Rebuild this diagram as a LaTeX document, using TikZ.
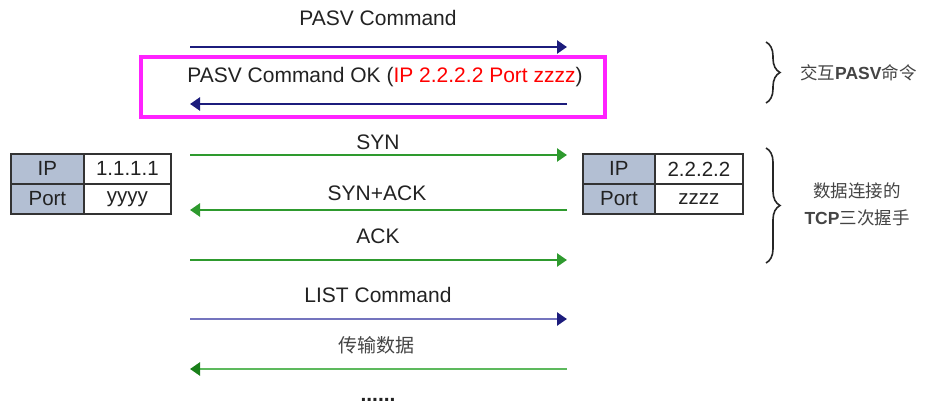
\documentclass[tikz,border=0pt]{standalone}
\usepackage{fontspec}
\setmainfont{Liberation Sans}
\newfontfamily\cjk{Noto Sans CJK SC}
\usetikzlibrary{arrows.meta,decorations.pathreplacing}
\definecolor{navy}{HTML}{1C1C7C}
\definecolor{lav}{HTML}{7474BE}
\definecolor{grn}{HTML}{2E9A2E}
\definecolor{lgrn}{HTML}{5DB95D}
\definecolor{dgrn}{HTML}{1A801A}
\definecolor{keyfill}{HTML}{B3BFD3}
\definecolor{tblline}{HTML}{333333}
\definecolor{txt}{HTML}{222222}
\definecolor{cjktxt}{HTML}{444444}
\definecolor{hlpink}{HTML}{FF22FF}
\tikzset{
  msg/.style={line width=2.6pt, -{Triangle[length=10pt,width=13pt]}},
  lbl/.style={text=txt, font=\fontsize{21}{24}\selectfont, inner sep=0pt},
  cell/.style={draw=tblline, line width=1.8pt, minimum height=30pt, inner sep=0pt,
    anchor=north west, text=txt, font=\fontsize{20.5}{22}\selectfont},
  keycell/.style={cell, fill=keyfill},
  bracelabel/.style={text=cjktxt, font=\fontsize{17.5}{27}\selectfont, inner sep=0pt, align=center},
  bracestyle/.style={draw=black!85, line width=1.6pt, decorate,
    decoration={brace, amplitude=14pt}},
}
\begin{document}
\begin{tikzpicture}[x=1pt,y=-1pt]
\useasboundingbox (0,0) rectangle (948,414);

% message endpoints
\foreach \n/\y in {a/47, b/104, c/155, d/210, e/260, f/319, g/369}{
  \coordinate (L\n) at (190,\y);
  \coordinate (R\n) at (567,\y);
}

% highlighted PASV reply
\node[draw=hlpink, line width=4.5pt, minimum width=464pt, minimum height=60pt, inner sep=0pt]
  (hl) at (373,87) {};

% message labels
\node[lbl] (ta) at (378,18) {PASV Command};
\node[lbl] (tb) at (385,77) {PASV Command OK (\textcolor{red}{IP 2.2.2.2 Port zzzz})};
\node[lbl] (tc) at (378,142) {SYN};
\node[lbl] (td) at (377,193) {SYN+ACK};
\node[lbl] (te) at (378,236) {ACK};
\node[lbl] (tf) at (378,295) {LIST Command};
\node[lbl, text=cjktxt, font=\cjk\fontsize{19}{20}\selectfont] (tg) at (376,345) {传输数据};
\node[lbl, text=txt, font=\bfseries\fontsize{21}{24}\selectfont] (th) at (378,400) {......};

% messages
\draw[msg, navy] (La) -- (Ra);
\draw[msg, navy] (Rb) -- (Lb);
\draw[msg, grn] (Lc) -- (Rc);
\draw[msg, grn] (Rd) -- (Ld);
\draw[msg, grn] (Le) -- (Re);
\draw[line width=2.6pt, lav, -{Triangle[length=10pt,width=13pt,fill=navy,color=navy]}] (Lf) -- (Rf);
\draw[line width=2.6pt, lgrn, -{Triangle[length=10pt,width=13pt,fill=dgrn,color=dgrn]}] (Rg) -- (Lg);

% client address table
\node[keycell, minimum width=73pt] (cip) at (10,153) {IP};
\node[cell, minimum width=87pt] (cipv) at (83,153) {1.1.1.1};
\node[keycell, minimum width=73pt] (cport) at (10,183) {Port};
\node[cell, minimum width=87pt] (cportv) at (83,183) {yyyy};

% server address table
\node[keycell, minimum width=72pt] (sip) at (582,153) {IP};
\node[cell, minimum width=88pt] (sipv) at (654,153) {2.2.2.2};
\node[keycell, minimum width=72pt] (sport) at (582,183) {Port};
\node[cell, minimum width=88pt] (sportv) at (654,183) {zzzz};

% braces with their notes
\coordinate (b1t) at (766,42);
\coordinate (b1b) at (766,103);
\draw[bracestyle] (b1t) -- (b1b);
\node[bracelabel, anchor=west] (n1) at (800,73)
  {{\cjk 交互}\textbf{PASV}{\cjk 命令}};

\coordinate (b2t) at (766,148);
\coordinate (b2b) at (766,263);
\draw[bracestyle] (b2t) -- (b2b);
\node[bracelabel] (n2) at (857,204)
  {{\cjk 数据连接的}\\\textbf{TCP}{\cjk 三次握手}};
\end{tikzpicture}
\end{document}
